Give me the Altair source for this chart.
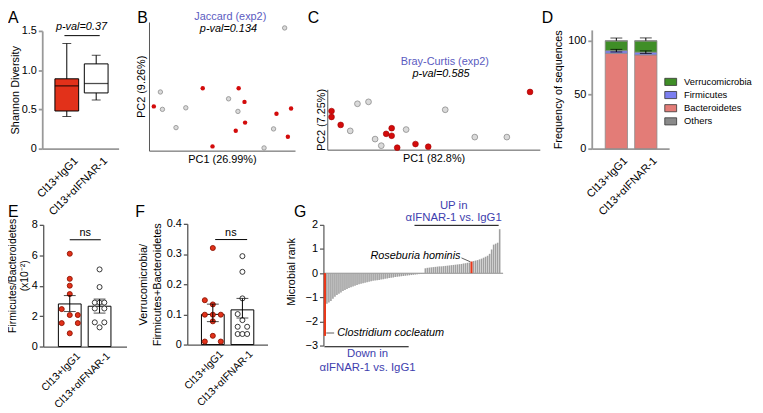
import altair as alt
import pandas as pd

FONT = "Liberation Sans"
W, H = 755, 405


def X(ix):
    return round(0.99 * ix - 2, 1)


def Y(iy):
    return iy - 8


# ---------------- data ----------------
groups = ["Cl13+IgG1", "Cl13+αIFNAR-1"]
group_pos = [1, 2]

# A  Shannon diversity (box summary)
a_min = [0.41, 0.62]
a_q1 = [0.48, 0.71]
a_median = [0.80, 0.83]
a_q3 = [0.89, 1.08]
a_max = [1.34, 1.19]
a_pval = "p-val=0.37"

# B  Jaccard PCoA
b_grey_pc1 = [0.078, 0.092, 0.252, 0.185, 0.545, 0.609, 0.853, 0.788, 0.929]
b_grey_pc2 = [0.456, 0.321, 0.333, 0.179, 0.403, 0.305, 0.169, 0.021, 0.954]
b_red_pc1 = [0.033, 0.368, 0.614, 0.654, 0.873, 0.973, 0.658, 0.594, 0.951, 0.435]
b_red_pc2 = [0.344, 0.485, 0.485, 0.379, 0.287, 0.328, 0.218, 0.154, 0.108, 0.033]

# C  Bray-Curtis PCoA
c_grey_pc1 = [0.142, 0.194, 0.555, 0.108, 0.225, 0.254, 0.371, 0.694, 0.845]
c_grey_pc2 = [0.760, 0.792, 0.661, 0.311, 0.175, 0.066, 0.333, 0.208, 0.208]
c_red_pc1 = [0.020, 0.020, 0.063, 0.303, 0.277, 0.303, 0.329, 0.415, 0.475, 0.954]
c_red_pc2 = [0.639, 0.541, 0.410, 0.355, 0.262, 0.230, 0.033, 0.093, 0.049, 0.956]

# D  phylum frequencies (stack order bottom -> top)
d_taxa = ["Bacteroidetes", "Firmicutes", "Verrucomicrobia", "Others"]
d_legend_order = ["Verrucomicrobia", "Firmicutes", "Bacteroidetes", "Others"]
d_igg1 = [88.4, 2.4, 9.0, 0.2]
d_ifnar = [86.9, 2.5, 10.4, 0.2]
d_top_sem = [2.5, 2.6]
d_mid_sem = [1.2, 1.2]

# E  Firmicutes/Bacteroidetes (x10^-2)
e_igg1 = [6.1, 4.45, 4.0, 3.45, 2.46, 2.07, 2.07, 1.54, 1.54, 0.87]
e_igg1_jit = [0, 0, 0, 0, -1, 1, 0, -1, 1, 0]
e_ifnar = [5.07, 3.91, 2.89, 2.89, 2.89, 2.5, 2.5, 1.59, 1.59, 1.26]
e_ifnar_jit = [0, 0, -1, 0, 1, -1, 1, -1, 1, 0]
e_mean = [2.8, 2.65]
e_sem_lo = [2.3, 2.2]
e_sem_hi = [3.35, 3.12]

# F  Verrucomicrobia / (Firmicutes+Bacteroidetes)
f_igg1 = [0.32, 0.147, 0.133, 0.099, 0.099, 0.099, 0.077, 0.029, 0.010, 0.010]
f_igg1_jit = [0, -1, 0, -1, 0, 1, 0, 0, -1, 1]
f_ifnar = [0.293, 0.241, 0.153, 0.101, 0.081, 0.059, 0.059, 0.035, 0.035, 0.035]
f_ifnar_jit = [0, 0, 0, -1, 0, -1, 1, -1, 0, 1]
f_mean = [0.100, 0.115]
f_sem_lo = [0.076, 0.088]
f_sem_hi = [0.134, 0.153]

# G  microbial ranks (sorted)
g_rank = [
    -2.60, -1.27, -1.22, -1.15, -1.06, -0.98, -0.91, -0.85, -0.80, -0.74, -0.70,
    -0.66, -0.62, -0.58, -0.55, -0.52, -0.49, -0.46, -0.44, -0.42, -0.40,
    -0.38, -0.36, -0.34, -0.32, -0.31, -0.29, -0.28, -0.26, -0.25, -0.23,
    -0.22, -0.20, -0.19, -0.18, -0.16, -0.15, -0.14, -0.13, -0.12, -0.11,
    -0.10, -0.09, -0.08, -0.07, -0.06, -0.05, -0.04, -0.03, -0.02,
    0.20, 0.22, 0.23, 0.24, 0.25, 0.26, 0.27, 0.28, 0.28, 0.29,
    0.30, 0.31, 0.32, 0.33, 0.34, 0.35, 0.36, 0.37, 0.38, 0.40,
    0.41, 0.43, 0.44, 0.48, 0.50, 0.52, 0.54, 0.57, 0.60, 0.64,
    0.68, 0.72, 0.80, 0.98, 1.18, 1.22, 1.26, 1.82,
]
g_red_idx = [0, 73]
g_red_names = ["Clostridium cocleatum", "Roseburia hominis"]

# ---------------- styles ----------------
RED = "#e2311a"
RED_PT = "#d30b0b"
RED_EDGE = "#8e1200"
GREY_FILL = "#dadada"
GREY_EDGE = "#8c8c8c"
BLUE_T = "#3e3eae"
BLUE_T2 = "#5b5bbf"
AX_LIGHT = "#999999"
AX_DARK = "#555555"
D_COLORS = ["#3f8e27", "#7b7ef0", "#e37c77", "#8a8a8a"]

cat_expr = f"datum.value == 1 ? '{groups[0]}' : '{groups[1]}'"
dec_expr = "datum.value == 0 ? '0' : format(datum.value, '.1f')"


def lin(domain, r0, r1):
    return alt.Scale(domain=domain, range=[r0, r1], nice=False, zero=False)


def cat_axis(iy, color, width, pad=6, fs=11):
    return alt.Axis(orient="bottom", offset=Y(iy) - H, values=group_pos, labelExpr=cat_expr,
                    labelAngle=-45, ticks=False, title=None, grid=False, labelFlush=False,
                    domainColor=color, domainWidth=width, labelPadding=pad, labelOffset=5,
                    labelFontSize=fs)


def left_axis(ix, title, values, color, width, expr=None, **kw):
    args = dict(orient="left", offset=-X(ix), values=values, title=title, grid=False,
                tickSize=4, tickColor=color, domainColor=color, domainWidth=width,
                tickWidth=width, labelPadding=2, labelFontSize=11)
    if expr:
        args["labelExpr"] = expr
    args.update(kw)
    return alt.Axis(**args)


def enc(scale, axis, kind):
    def f(field):
        if kind == "x":
            return alt.X(field, type="quantitative", scale=scale, axis=axis)
        return alt.Y(field, type="quantitative", scale=scale, axis=axis)
    return f


def text_at(xf, yf, x, y, t, **mk):
    return alt.Chart(pd.DataFrame({"x": [x], "y": [y], "t": [t]})).mark_text(font=FONT, **mk).encode(
        x=xf("x"), y=yf("y"), text="t:N")


def rule_at(xf, yf, x, x2, y, y2=None, **mk):
    df = pd.DataFrame({"x": [x], "x2": [x2], "y": [y], "y2": [y if y2 is None else y2]})
    return alt.Chart(df).mark_rule(**mk).encode(x=xf("x"), x2="x2:Q", y=yf("y"), y2="y2:Q")


# ---------------- panel A ----------------
ax = enc(lin([0.333, 2.594], X(37), X(115)), cat_axis(148, AX_LIGHT, 1.8), "x")
ay = enc(lin([0, 1.5], Y(148), Y(29)),
         left_axis(37, "Shannon Diversity", [0, 0.5, 1.0, 1.5], AX_LIGHT, 1.8, dec_expr,
                   titlePadding=1), "y")
a_df = pd.DataFrame({"g": group_pos, "lo": a_min, "q1": a_q1, "med": a_median, "q3": a_q3, "hi": a_max})
a_base = alt.Chart(a_df)
panel_A = alt.layer(
    a_base.mark_rule(color="black", strokeWidth=1).encode(x=ax("g"), y=ay("lo"), y2="hi:Q"),
    a_base.mark_bar(size=24, stroke="black", strokeWidth=1).encode(
        x=ax("g"), y=ay("q1"), y2="q3:Q",
        fill=alt.condition("datum.g == 1", alt.value(RED), alt.value("white"))),
    a_base.mark_tick(orient="horizontal", size=24, thickness=1.3, color="black").encode(x=ax("g"), y=ay("med")),
    a_base.mark_tick(orient="horizontal", size=9, thickness=1, color="black").encode(x=ax("g"), y=ay("lo")),
    a_base.mark_tick(orient="horizontal", size=9, thickness=1, color="black").encode(x=ax("g"), y=ay("hi")),
    rule_at(ax, ay, 0.92, 2.12, 1.44, color="black", strokeWidth=1),
    text_at(ax, ay, 1.5, 1.55, a_pval, fontSize=11, fontStyle="italic", baseline="middle"),
)

# ---------------- panel B ----------------
bx = enc(lin([0, 1], X(146), X(295)),
         alt.Axis(orient="bottom", offset=Y(150) - H, ticks=False, labels=False, grid=False,
                  title="PC1 (26.99%)", titlePadding=3, domainColor=AX_DARK, domainWidth=1), "x")
by = enc(lin([0, 1], Y(150), Y(20)),
         alt.Axis(orient="left", offset=-X(146), ticks=False, labels=False, grid=False,
                  title="PC2 (9.26%)", titlePadding=3, domainColor=AX_DARK, domainWidth=1), "y")
b_grey = pd.DataFrame({"pc1": b_grey_pc1, "pc2": b_grey_pc2})
b_red = pd.DataFrame({"pc1": b_red_pc1, "pc2": b_red_pc2})
panel_B = alt.layer(
    alt.Chart(b_grey).mark_circle(size=20, color=GREY_FILL, opacity=1, stroke=GREY_EDGE, strokeWidth=0.8).encode(
        x=bx("pc1"), y=by("pc2")),
    alt.Chart(b_red).mark_circle(size=20, color=RED_PT, opacity=1).encode(x=bx("pc1"), y=by("pc2")),
    text_at(bx, by, 0.557, 1.04, "Jaccard (exp2)", fontSize=11, color=BLUE_T2, baseline="middle"),
    text_at(bx, by, 0.544, 0.946, "p-val=0.134", fontSize=11, fontStyle="italic", baseline="middle"),
)

# ---------------- panel C ----------------
cx = enc(lin([0, 1], X(328), X(545)),
         alt.Axis(orient="bottom", offset=Y(149) - H, ticks=False, labels=False, grid=False,
                  title="PC1 (82.8%)", titlePadding=3, domainColor=AX_DARK, domainWidth=1), "x")
cy = enc(lin([0, 1], Y(149), Y(88)),
         alt.Axis(orient="left", offset=-X(328), ticks=False, labels=False, grid=False,
                  title="PC2 (7.25%)", titlePadding=1, domainColor=AX_DARK, domainWidth=1), "y")
c_grey = pd.DataFrame({"pc1": c_grey_pc1, "pc2": c_grey_pc2})
c_red = pd.DataFrame({"pc1": c_red_pc1, "pc2": c_red_pc2})
panel_C = alt.layer(
    alt.Chart(c_grey).mark_circle(size=34, color=GREY_FILL, opacity=1, stroke=GREY_EDGE, strokeWidth=0.8).encode(
        x=cx("pc1"), y=cy("pc2")),
    alt.Chart(c_red).mark_circle(size=34, color=RED_PT, opacity=1, stroke="#a00000", strokeWidth=0.6).encode(
        x=cx("pc1"), y=cy("pc2")),
    text_at(cx, cy, 0.553, 1.46, "Bray-Curtis (exp2)", fontSize=11, color=BLUE_T2, baseline="middle"),
    text_at(cx, cy, 0.535, 1.26, "p-val=0.585", fontSize=11, fontStyle="italic", baseline="middle"),
)

# ---------------- panel D ----------------
dx = enc(lin([0.333, 2.623], X(598), X(677)), cat_axis(148, AX_LIGHT, 1.8), "x")
dy = enc(lin([0, 110], Y(148), Y(28)),
         left_axis(598, "Frequency of sequences", [0, 50, 100], AX_LIGHT, 1.8), "y")
d_df = pd.DataFrame({
    "g": [1] * 4 + [2] * 4,
    "taxon": d_taxa * 2,
    "val": d_igg1 + d_ifnar,
    "ord": list(range(4)) * 2,
})
d_tot = [sum(d_igg1), sum(d_ifnar)]
d_mid = [d_igg1[0] + d_igg1[1], d_ifnar[0] + d_ifnar[1]]
d_err = pd.DataFrame({
    "g": group_pos, "tot": d_tot, "top": [t + s for t, s in zip(d_tot, d_top_sem)],
    "mlo": [m - s for m, s in zip(d_mid, d_mid_sem)], "mhi": [m + s for m, s in zip(d_mid, d_mid_sem)],
})
d_bars = alt.Chart(d_df).transform_stack(
    stack="val", groupby=["g"], as_=["lo", "hi"], sort=[alt.SortField(field="ord", order="ascending")]
).mark_bar(size=22.5, stroke="#8a8a8a", strokeWidth=0.8).encode(
    x=dx("g"), y=dy("lo"), y2="hi:Q",
    fill=alt.Fill("taxon:N", scale=alt.Scale(domain=d_legend_order, range=D_COLORS),
                  legend=alt.Legend(orient="none", legendX=X(672), legendY=Y(74), title=None,
                                    symbolType="M-1,-0.6H1V0.6H-1Z", symbolSize=144,
                                    symbolStrokeColor="#333333", symbolStrokeWidth=0.8,
                                    symbolOpacity=1, labelFontSize=9.5, labelFont=FONT,
                                    labelOffset=7, rowPadding=1.3, padding=0, labelLimit=200)),
)
d_eb = alt.Chart(d_err)
panel_D = alt.layer(
    d_bars,
    d_eb.mark_rule(color="black", strokeWidth=1).encode(x=dx("g"), y=dy("tot"), y2="top:Q"),
    d_eb.mark_tick(orient="horizontal", size=12, thickness=1, color="black").encode(x=dx("g"), y=dy("top")),
    d_eb.mark_rule(color="black", strokeWidth=1).encode(x=dx("g"), y=dy("mlo"), y2="mhi:Q"),
    d_eb.mark_tick(orient="horizontal", size=12, thickness=1, color="black").encode(x=dx("g"), y=dy("mhi")),
    d_eb.mark_tick(orient="horizontal", size=12, thickness=1, color="black").encode(x=dx("g"), y=dy("mlo")),
)


# ---------------- panels E and F ----------------
def dot_panel(x_ix0, x_ix1, c1_ix, y_top_iy, y_bot_iy, ydom, yvals, ytitle, expr,
              v1, j1, v2, j2, mean, lo, hi, ns_x, ns_y, line_x, line_x2, line_y, yaxis_kw):
    step = 34.5
    d0 = 1 - (c1_ix - x_ix0) / step
    d1 = 2 + (x_ix1 - (c1_ix + step)) / step
    px = enc(lin([d0, d1], X(x_ix0), X(x_ix1)), cat_axis(y_bot_iy, AX_DARK, 1.3, pad=4, fs=10.5), "x")
    py = enc(lin(ydom, Y(y_bot_iy), Y(y_top_iy)),
             left_axis(x_ix0, ytitle, yvals, AX_DARK, 1.3, expr, **yaxis_kw), "y")
    bars = pd.DataFrame({"g": group_pos, "m": mean, "lo": lo, "hi": hi})
    pts = pd.DataFrame({"g": [1] * len(v1) + [2] * len(v2), "v": v1 + v2, "j": j1 + j2})
    bb = alt.Chart(bars)
    return alt.layer(
        bb.mark_bar(size=23, fill="white", stroke="black", strokeWidth=1).encode(
            x=px("g"), y=py("m"), y2=alt.datum(0)),
        alt.Chart(pts).transform_calculate(
            px="datum.g + datum.j * (datum.g == 1 ? 0.27 : 0.16)"
        ).mark_point(shape="circle", filled=True, size=26, strokeWidth=0.9, opacity=1).encode(
            x=px("px"), y=py("v"),
            fill=alt.condition("datum.g == 1", alt.value(RED), alt.value("white")),
            stroke=alt.condition("datum.g == 1", alt.value(RED_EDGE), alt.value("#222222")),
        ),
        bb.mark_rule(color="black", strokeWidth=1).encode(x=px("g"), y=py("lo"), y2="hi:Q"),
        bb.mark_tick(orient="horizontal", size=12, thickness=1, color="black").encode(x=px("g"), y=py("lo")),
        bb.mark_tick(orient="horizontal", size=12, thickness=1, color="black").encode(x=px("g"), y=py("hi")),
        rule_at(px, py, line_x, line_x2, line_y, color="black", strokeWidth=1),
        text_at(px, py, ns_x, ns_y, "ns", fontSize=11, baseline="middle"),
    )


panel_E = dot_panel(38, 123, 63, 225, 348, [0, 8], [0, 2, 4, 6, 8],
                    ["Firmicutes/Bacteroidetes", "(x10⁻²)"], None,
                    e_igg1, e_igg1_jit, e_ifnar, e_ifnar_jit, e_mean, e_sem_lo, e_sem_hi,
                    1.52, 7.48, 1.0, 2.04, 7.02,
                    dict(titleX=-26.0, titleY=Y(276), titleLineHeight=12.5,
                         titleFontSize=10.5))
panel_F = dot_panel(185, 267, 209, 224, 346, [0, 0.4], [0, 0.1, 0.2, 0.3, 0.4],
                    ["Verrucomicrobia/", "Firmicutes+Bacteroidetes"], dec_expr,
                    f_igg1, f_igg1_jit, f_ifnar, f_ifnar_jit, f_mean, f_sem_lo, f_sem_hi,
                    1.61, 0.37, 1.08, 2.16, 0.348,
                    dict(titleLineHeight=14))

# ---------------- panel G ----------------
gx = enc(lin([-0.73, 88.46], X(324), X(507)),
         alt.Axis(orient="bottom", offset=Y(273.4) - H, ticks=False, labels=False, grid=False,
                  title=None, domainColor="#8c8c8c", domainWidth=1.2), "x")
gy = enc(lin([-3, 2], Y(347), Y(225)),
         left_axis(324, "Microbial rank", [-3, -2, -1, 0, 1, 2], AX_DARK, 1.2, None,
                   titleX=round(X(297) - X(324), 1), titleY=Y(272)), "y")
g_df = pd.DataFrame({"i": list(range(len(g_rank))), "v": g_rank})
g_df["hl"] = g_df["i"].isin(g_red_idx)
panel_G = alt.layer(
    alt.Chart(g_df).mark_rule().encode(
        x=gx("i"), y=gy("v"), y2=alt.datum(0),
        color=alt.condition("datum.hl", alt.value("#e8381a"), alt.value("#a0a0a0")),
        strokeWidth=alt.condition("datum.hl", alt.value(2.2), alt.value(1.6)),
    ),
    text_at(gx, gy, 6.1, -2.48, g_red_names[0], fontSize=11, fontStyle="italic", align="left", baseline="middle"),
    rule_at(gx, gy, 0.7, 4.6, -2.48, color="#333333", strokeWidth=0.8),
    text_at(gx, gy, 67.5, 0.71, g_red_names[1], fontSize=11, fontStyle="italic", align="right", baseline="middle"),
    rule_at(gx, gy, 68.0, 72.4, 0.63, 0.47, color="#333333", strokeWidth=0.8),
    text_at(gx, gy, 64.1, 2.80, "UP in", fontSize=11.5, color=BLUE_T, baseline="middle"),
    text_at(gx, gy, 64.1, 2.27, "αIFNAR-1 vs. IgG1", fontSize=11.5, color=BLUE_T, baseline="middle"),
    rule_at(gx, gy, 44.6, 86.5, 1.98, color="black", strokeWidth=1),
    text_at(gx, gy, 21.2, -3.34, "Down in", fontSize=11.5, color=BLUE_T, baseline="middle"),
    text_at(gx, gy, 21.2, -3.92, "αIFNAR-1 vs. IgG1", fontSize=11.5, color=BLUE_T, baseline="middle"),
    rule_at(gx, gy, -0.25, 41.7, -3.05, color="black", strokeWidth=1),
)

# ---------------- panel letters ----------------
letters = ["A", "B", "C", "D", "E", "F", "G"]
letter_pos = [(2, 3), (134, 3), (308, 3), (547, 3), (2, 204), (132, 204), (294, 204)]
letter_layers = [
    alt.Chart(pd.DataFrame({"t": [L]})).mark_text(
        font=FONT, fontSize=16, align="left", baseline="top").encode(
        x=alt.value(X(lx)), y=alt.value(max(0, Y(ly))), text="t:N")
    for L, (lx, ly) in zip(letters, letter_pos)
]

chart = alt.layer(
    panel_A, panel_B, panel_C, panel_D, panel_E, panel_F, panel_G, *letter_layers
).resolve_scale(
    x="independent", y="independent"
).resolve_axis(
    x="independent", y="independent"
).properties(
    width=W, height=H, padding=0, autosize=alt.AutoSizeParams(type="none")
).configure_view(
    stroke="transparent"
).configure_axis(
    labelFont=FONT, titleFont=FONT, labelColor="black", titleColor="black",
    titleFontSize=11, titleFontWeight="normal", labelFontSize=11
).configure_text(font=FONT)

chart.save("out.html", embed_options={"renderer": "svg", "actions": False})
